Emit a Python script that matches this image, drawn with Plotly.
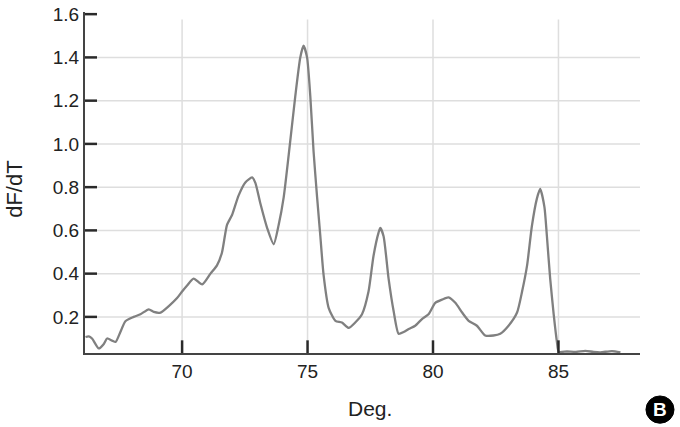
import plotly.graph_objects as go

deg = [66.15, 66.28, 66.41, 66.68, 66.88, 67.01, 67.21, 67.35, 67.54, 67.74,
       68.07, 68.34, 68.67, 68.87, 69.14, 69.47, 69.80, 70.00, 70.20, 70.46,
       70.80, 71.13, 71.39, 71.59, 71.79, 71.99, 72.25, 72.52, 72.79, 72.92,
       73.12, 73.39, 73.65, 73.85, 74.05, 74.25, 74.51, 74.71, 74.84, 74.98,
       75.11, 75.24, 75.38, 75.51, 75.64, 75.84, 76.11, 76.37, 76.64, 76.90,
       77.17, 77.43, 77.63, 77.83, 77.90, 78.03, 78.23, 78.43, 78.63, 78.83,
       79.03, 79.29, 79.56, 79.82, 80.09, 80.36, 80.62, 80.89, 81.16, 81.42,
       81.75, 82.08, 82.41, 82.68, 83.01, 83.35, 83.55, 83.75, 83.94, 84.14,
       84.27, 84.44, 84.54, 84.67, 84.81, 84.94, 85.01, 85.34, 85.70, 86.07,
       86.40, 86.67, 87.13, 87.47]
dfdt = [0.107, 0.110, 0.100, 0.054, 0.075, 0.100, 0.090, 0.084, 0.130, 0.180,
        0.200, 0.212, 0.235, 0.223, 0.220, 0.250, 0.287, 0.317, 0.345, 0.377,
        0.350, 0.400, 0.438, 0.498, 0.626, 0.671, 0.761, 0.822, 0.845, 0.820,
        0.724, 0.611, 0.536, 0.626, 0.754, 0.950, 1.220, 1.400, 1.454, 1.400,
        1.220, 0.965, 0.754, 0.573, 0.393, 0.242, 0.182, 0.174, 0.149, 0.174,
        0.212, 0.317, 0.483, 0.590, 0.611, 0.573, 0.377, 0.227, 0.122, 0.130,
        0.144, 0.159, 0.190, 0.212, 0.265, 0.280, 0.290, 0.265, 0.220, 0.182,
        0.159, 0.114, 0.114, 0.122, 0.159, 0.220, 0.317, 0.438, 0.619, 0.747,
        0.792, 0.709, 0.573, 0.377, 0.212, 0.084, 0.039, 0.040, 0.038, 0.043,
        0.038, 0.036, 0.042, 0.036]

x_ticks = [70, 75, 80, 85]
y_ticks = [0.2, 0.4, 0.6, 0.8, 1.0, 1.2, 1.4, 1.6]
y_labels = ["0.2", "0.4", "0.6", "0.8", "1.0", "1.2", "1.4", "1.6"]
y_grid = [0.2, 0.4, 0.6, 0.8, 1.0, 1.2, 1.4]

fig = go.Figure()
fig.add_trace(go.Scatter(x=deg, y=dfdt, mode="lines",
                         line=dict(color="#808080", width=2.3, shape="spline", smoothing=0.6),
                         showlegend=False, hoverinfo="skip"))

shapes = []
# grid lines (start just past the inward tick marks)
for g in y_grid:
    shapes.append(dict(type="line", xref="paper", yref="y", x0=12 / 555, x1=1, y0=g, y1=g,
                       line=dict(color="#dedede", width=1.5), layer="below"))
for g in x_ticks:
    shapes.append(dict(type="line", xref="x", yref="y", x0=g, x1=g, y0=0.033 + 13 / 221.3,
                       y1=1.575, line=dict(color="#dedede", width=1.5), layer="below"))
# inward tick marks
for g in y_ticks:
    shapes.append(dict(type="line", xref="paper", yref="y", x0=0, x1=12 / 555, y0=g, y1=g,
                       line=dict(color="#2a2a2a", width=2.5), layer="above"))
for g in x_ticks:
    shapes.append(dict(type="line", xref="x", yref="paper", x0=g, x1=g, y0=0, y1=13 / 349,
                       line=dict(color="#2a2a2a", width=2.5), layer="above"))
# badge
shapes.append(dict(type="circle", xref="paper", yref="paper",
                   x0=1.036 - 0.0253, x1=1.036 + 0.0253, y0=-0.166 - 0.04, y1=-0.166 + 0.04,
                   fillcolor="black", line=dict(color="black", width=1)))

font_family = "Liberation Sans, Arial, sans-serif"
fig.update_layout(
    width=680, height=427,
    margin=dict(l=85, r=40, t=4, b=74),
    paper_bgcolor="white", plot_bgcolor="white",
    font=dict(family=font_family, color="#222222"),
    xaxis=dict(range=[66.13, 88.25], tickvals=x_ticks, ticktext=[str(v) for v in x_ticks],
               ticks="", showline=True, linecolor="#444444", linewidth=2,
               showgrid=False, zeroline=False, tickfont=dict(size=19)),
    yaxis=dict(range=[0.033, 1.61], tickvals=y_ticks, ticktext=y_labels,
               ticks="", showline=True, linecolor="#444444", linewidth=2,
               showgrid=False, zeroline=False, tickfont=dict(size=19),
               ticklabeloverflow="allow"),
    annotations=[
        dict(text="dF/dT", xref="paper", yref="paper", x=-0.127, y=0.48,
             textangle=-90, showarrow=False, font=dict(size=22),
             xanchor="center", yanchor="middle"),
        dict(text="Deg.", xref="paper", yref="paper", x=0.513, y=-0.163,
             showarrow=False, font=dict(size=21), xanchor="center", yanchor="middle"),
        dict(text="<b>B</b>", xref="paper", yref="paper", x=1.036, y=-0.166,
             showarrow=False, font=dict(size=19, color="white"),
             xanchor="center", yanchor="middle"),
    ],
    shapes=shapes,
)

fig.write_html("out.html")
